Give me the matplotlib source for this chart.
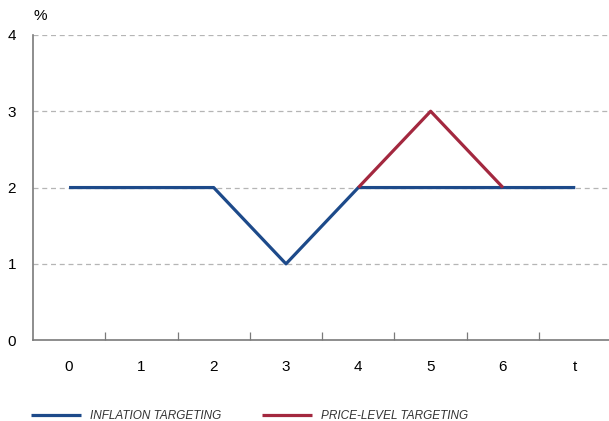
import numpy as np
import matplotlib.pyplot as plt

plt.rcParams['font.family'] = ['Liberation Sans', 'DejaVu Sans']

periods = ['0', '1', '2', '3', '4', '5', '6', 't']
inflation_targeting = [2, 2, 2, 1, 2, 2, 2, 2]
price_level_targeting = [np.nan, np.nan, np.nan, np.nan, 2, 3, 2, np.nan]

blue = '#1d4a8a'
red = '#a3283f'
grey = '#7a7a7a'

fig = plt.figure(figsize=(6.09, 4.21), dpi=100)
ax = fig.add_axes([0.054, 0.192, 0.95, 0.725])

x = np.arange(len(periods))
ax.plot(x, inflation_targeting, color=blue, lw=2.3, solid_capstyle='butt',
        label='INFLATION TARGETING', zorder=3)
ax.plot(x, price_level_targeting, color=red, lw=2.3, solid_capstyle='butt',
        label='PRICE-LEVEL TARGETING', zorder=4)

ax.set_xlim(-0.5, len(periods) - 0.5)
ax.set_ylim(0, 4)

for y in [1, 2, 3, 4]:
    ax.axhline(y, color='#b5b5b5', lw=0.9, ls=(0, (4, 3)), zorder=1)

ax.set_yticks([0, 1, 2, 3, 4])
ax.tick_params(axis='y', length=0, pad=12, labelsize=11)
ax.set_xticks(x)
ax.set_xticklabels(periods)
ax.set_xticks(x[:-1] + 0.5, minor=True)
ax.tick_params(axis='x', which='major', length=0, pad=14, labelsize=11)
ax.tick_params(axis='x', which='minor', direction='in', length=6,
               color=grey, width=0.9)

for side in ['top', 'right']:
    ax.spines[side].set_visible(False)
for side in ['left', 'bottom']:
    ax.spines[side].set_color(grey)
    ax.spines[side].set_linewidth(1.2)

fig.text(0.055, 0.945, '%', fontsize=11, ha='left', va='bottom')

fig.legend(loc='lower left', bbox_to_anchor=(0.034, -0.027), ncol=2,
           frameon=False, handlelength=4.2, handletextpad=0.75,
           columnspacing=3.5, prop={'style': 'italic', 'size': 8.5},
           labelcolor='#333333')

fig.savefig('out.png', dpi=100)
